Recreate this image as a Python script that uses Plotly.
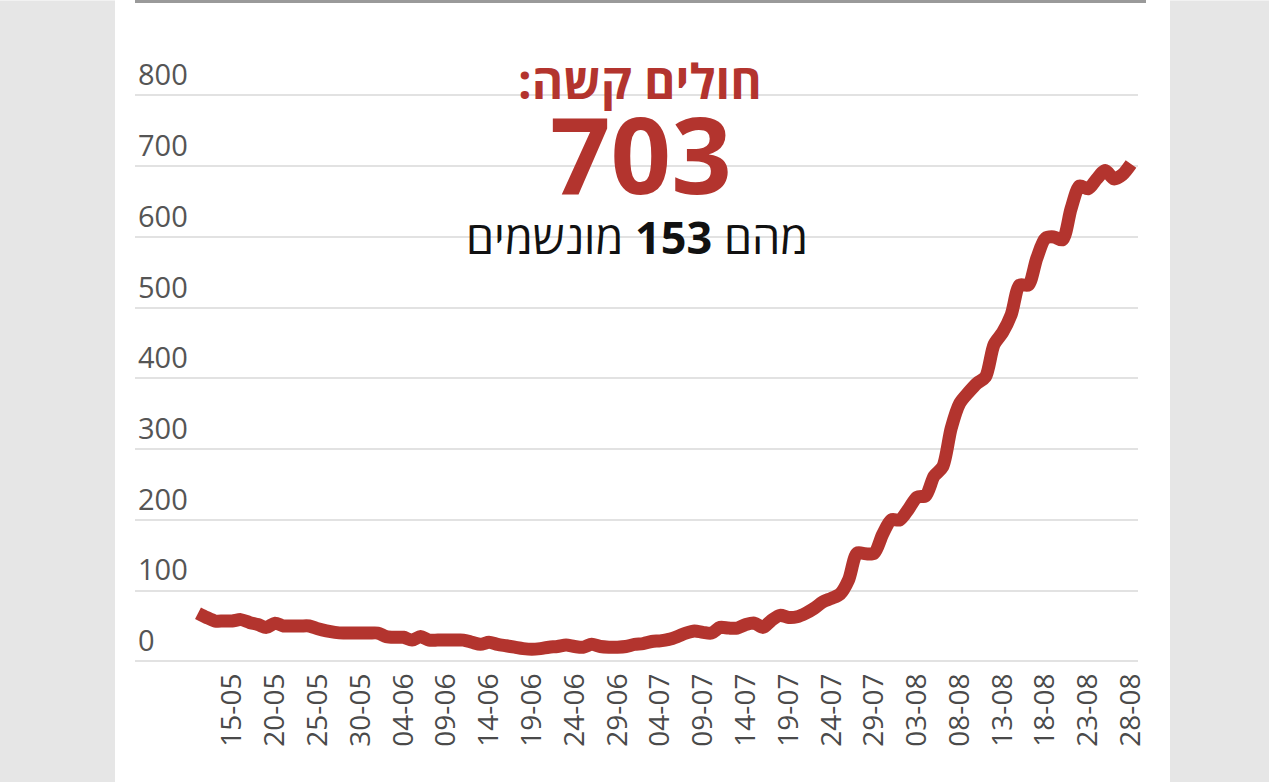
import pandas as pd
import plotly.graph_objects as go

# ---- data ----
start_date = "2021-05-11"
severe = [68, 62, 57, 57, 57, 59, 55, 52, 48, 54,
          50, 50, 50, 50, 46, 43, 41, 40, 40, 40,
          40, 40, 35, 34, 34, 30, 35, 30, 30, 30,
          30, 30, 27, 24, 27, 24, 22, 20, 18, 17,
          18, 20, 21, 23, 21, 20, 24, 21, 20, 20,
          21, 24, 25, 28, 29, 31, 35, 40, 43, 41,
          40, 48, 47, 47, 52, 54, 48, 58, 65, 62,
          63, 68, 75, 84, 89, 95, 115, 153, 152, 153,
          180, 200, 200, 215, 232, 234, 262, 275, 330, 365,
          380, 393, 402, 448, 465, 490, 532, 532, 570, 598,
          600, 596, 640, 672, 668, 682, 694, 682, 688, 703]
tick_dates = ["2021-05-15", "2021-05-20", "2021-05-25", "2021-05-30", "2021-06-04",
              "2021-06-09", "2021-06-14", "2021-06-19", "2021-06-24", "2021-06-29",
              "2021-07-04", "2021-07-09", "2021-07-14", "2021-07-19", "2021-07-24",
              "2021-07-29", "2021-08-03", "2021-08-08", "2021-08-13", "2021-08-18",
              "2021-08-23", "2021-08-28"]
tick_labels = ["15-05", "20-05", "25-05", "30-05", "04-06", "09-06", "14-06", "19-06",
               "24-06", "29-06", "04-07", "09-07", "14-07", "19-07", "24-07", "29-07",
               "03-08", "08-08", "13-08", "18-08", "23-08", "28-08"]
y_ticks = [0, 100, 200, 300, 400, 500, 600, 700, 800]
title_text = "חולים קשה:\u200f"
big_number = "703"
sub_text = "מהם <b>153</b> מונשמים"

dates = pd.date_range(start_date, periods=len(severe), freq="D")

RED = "#b3342e"
W, H = 1269, 782
Y_LO, Y_HI = -8, 860
ppu = (661 - 95) / 800.0          # pixels per unit on y
top_px = 95 - (Y_HI - 800) * ppu
bot_px = 661 + (0 - Y_LO) * ppu
L, R = 135, W - 1138
T, B = top_px, H - bot_px
pw, ph = W - L - R, H - T - B

def px_x(x):
    return (x - L) / pw

def px_y(y):
    return (bot_px - y) / ph

fig = go.Figure()
fig.add_trace(go.Scatter(
    x=dates, y=severe, mode="lines",
    line=dict(color=RED, width=13, shape="spline", smoothing=0.8),
    hoverinfo="skip", showlegend=False,
))

day_px = 8.56
x0 = dates[0] - pd.Timedelta(days=(198 - L) / day_px)
x1 = dates[-1] + pd.Timedelta(days=(1138 - 1131) / day_px)

fig.update_layout(
    width=W, height=H,
    margin=dict(l=L, r=R, t=T, b=B, pad=0),
    paper_bgcolor="white", plot_bgcolor="white",
    font=dict(family="Open Sans, DejaVu Sans, sans-serif", color="#555555"),
    xaxis=dict(
        range=[x0, x1], tickmode="array", tickvals=tick_dates, ticktext=tick_labels,
        tickangle=-90, tickfont=dict(size=28, color="#4a4a4a"),
        showgrid=False, zeroline=False, showline=False, ticks="", ticklen=0,
    ),
    yaxis=dict(
        range=[Y_LO, Y_HI], tickmode="array", tickvals=y_ticks,
        ticklabelposition="inside top", tickfont=dict(size=29, color="#555555"),
        showgrid=True, gridcolor="#e2e2e2", gridwidth=2,
        zeroline=False, showline=False, ticks="",
    ),
    shapes=[
        dict(type="rect", xref="paper", yref="paper",
             x0=px_x(0), x1=px_x(115), y0=px_y(782), y1=px_y(0),
             fillcolor="#e6e6e6", line=dict(width=0), layer="below"),
        dict(type="rect", xref="paper", yref="paper",
             x0=px_x(1170), x1=px_x(1269), y0=px_y(782), y1=px_y(0),
             fillcolor="#e6e6e6", line=dict(width=0), layer="below"),
        dict(type="line", xref="paper", yref="paper",
             x0=px_x(135), x1=px_x(1146), y0=px_y(1), y1=px_y(1),
             line=dict(color="#9a9a9a", width=3)),
        dict(type="rect", xref="paper", yref="paper",
             x0=px_x(415), x1=px_x(865), y0=px_y(262), y1=px_y(50),
             fillcolor="white", line=dict(width=0), layer="between"),
    ],
    annotations=[
        dict(text=title_text, xref="paper", yref="paper", x=px_x(640), y=px_y(80),
             xanchor="center", yanchor="middle", showarrow=False,
             font=dict(size=48, color=RED, family="Open Sans, DejaVu Sans, sans-serif", weight="bold")),
        dict(text="<b>" + big_number + "</b>", xref="paper", yref="paper", x=px_x(641), y=px_y(153),
             xanchor="center", yanchor="middle", showarrow=False,
             font=dict(size=106, color=RED, family="Open Sans, DejaVu Sans, sans-serif")),
        dict(text=sub_text, xref="paper", yref="paper", x=px_x(637), y=px_y(236),
             xanchor="center", yanchor="middle", showarrow=False,
             font=dict(size=45, color="#111111", family="Open Sans, DejaVu Sans, sans-serif")),
    ],
)

fig.write_html("out.html")
